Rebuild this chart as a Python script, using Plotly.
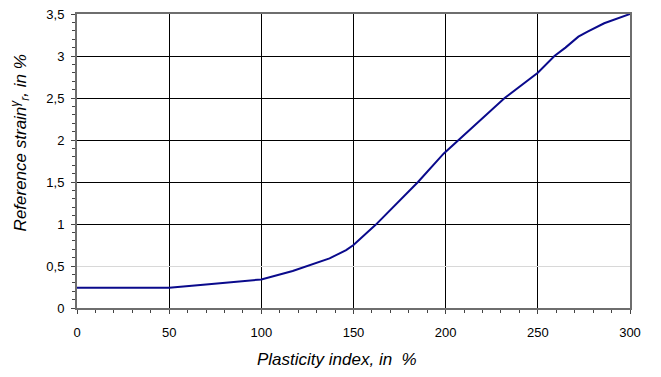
import plotly.graph_objects as go

# Reference strain vs. plasticity index
plasticity_index = [0, 50, 70, 90, 100, 117, 137, 146, 150, 162, 175, 185,
                    199, 207, 232, 250, 259, 265, 272, 277, 286, 300]
reference_strain = [0.24, 0.24, 0.28, 0.32, 0.34, 0.44, 0.59, 0.69, 0.75, 0.99, 1.28, 1.50,
                    1.84, 2.0, 2.5, 2.8, 3.0, 3.1, 3.23, 3.29, 3.39, 3.5]

x_ticks = [0, 50, 100, 150, 200, 250, 300]
y_ticks = [0, 0.5, 1, 1.5, 2, 2.5, 3, 3.5]
y_tick_labels = ["0", "0,5", "1", "1,5", "2", "2,5", "3", "3,5"]
dark_grid_levels = [1, 1.5, 2, 2.5, 3]

font_family = "Liberation Sans, Arial, sans-serif"

fig = go.Figure()
fig.add_trace(go.Scatter(
    x=plasticity_index, y=reference_strain, mode="lines",
    line=dict(color="#0a0a8c", width=2), showlegend=False,
))
# invisible helper trace so the overlay axis is drawn
fig.add_trace(go.Scatter(x=[None], y=[None], yaxis="y2", showlegend=False, hoverinfo="skip"))

fig.update_layout(
    width=661, height=377,
    margin=dict(l=77, r=31, t=7, b=69),
    paper_bgcolor="white", plot_bgcolor="white",
    font=dict(family=font_family, size=13, color="black"),
    # overlay axis carrying the dark horizontal grid lines
    yaxis2=dict(
        overlaying="y", matches="y", side="left",
        tickvals=dark_grid_levels, showticklabels=False, ticks="",
        showgrid=True, gridcolor="black", gridwidth=1,
        showline=False, zeroline=False,
    ),
    annotations=[
        dict(
            text="<i>Reference strain<sup>γ</sup><sub>r</sub>, in %</i>",
            xref="paper", yref="paper", x=-0.103, y=0.56,
            xanchor="center", yanchor="middle", textangle=-90,
            showarrow=False, font=dict(size=17),
        ),
        dict(
            text="<i>Plasticity index, in\u00a0\u00a0%</i>",
            xref="paper", yref="paper", x=0.471, y=-0.176,
            xanchor="center", yanchor="middle",
            showarrow=False, font=dict(size=17),
        ),
    ],
)

fig.update_xaxes(
    range=[0, 300], tickvals=x_ticks, ticktext=[str(v) for v in x_ticks],
    showgrid=True, gridcolor="black", gridwidth=1,
    showline=True, linecolor="#6e6e6e", linewidth=2, mirror=True,
    ticks="outside", ticklen=4, tickcolor="#444", tickwidth=1,
    minor=dict(dtick=10, ticks="outside", ticklen=3, tickcolor="#444", showgrid=False),
    zeroline=False, ticklabelstandoff=7,
    tickfont=dict(size=13),
)
fig.layout.yaxis.update(
    range=[0, 3.5], tickvals=y_ticks, ticktext=y_tick_labels,
    showgrid=True, gridcolor="#d8d8d8", gridwidth=1,
    showline=True, linecolor="#6e6e6e", linewidth=2, mirror=True,
    ticks="outside", ticklen=4, tickcolor="#444", tickwidth=1,
    minor=dict(dtick=0.1, ticks="outside", ticklen=3, tickcolor="#444", showgrid=False),
    zeroline=False, ticklabelstandoff=4,
    tickfont=dict(size=13),
)

fig.write_html("out.html")
